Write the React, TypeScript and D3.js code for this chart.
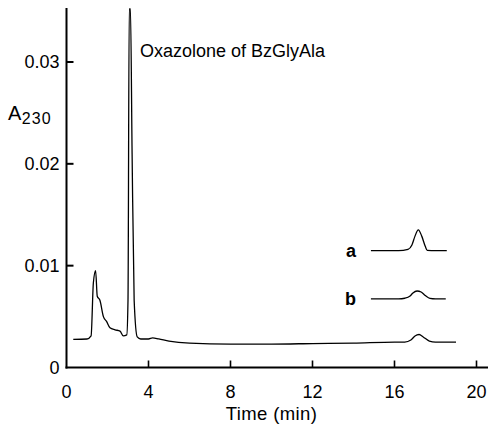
import React, { useMemo } from 'react';
import { scaleLinear, line, curveMonotoneX } from 'd3';

// main chromatogram (time in min, absorbance at 230 nm)
const mainTime = [0.33, 1.0, 1.2, 1.31, 1.42, 1.5, 1.63, 1.8, 1.96, 2.12, 2.37, 2.61, 2.77, 2.94, 3.0, 3.06, 3.12, 3.2, 3.3, 3.45, 3.62, 4.0, 4.2, 4.5, 5.0, 6.0, 8.0, 10.0, 12.0, 14.0, 16.0, 16.5, 16.8, 17.0, 17.2, 17.4, 17.7, 18.0, 19.0];
const mainValue = [0.00277, 0.0028, 0.0031, 0.0083, 0.0095, 0.007, 0.0066, 0.005, 0.0045, 0.0039, 0.0037, 0.00357, 0.0031, 0.0032, 0.0066, 0.0352, 0.0352, 0.021, 0.0066, 0.003, 0.0028, 0.0028, 0.0029, 0.0028, 0.0026, 0.0024, 0.0023, 0.0023, 0.00235, 0.0024, 0.0025, 0.0025, 0.0027, 0.0031, 0.00324, 0.003, 0.0026, 0.0025, 0.0025];

// inset traces a and b, drawn offset above the baseline
const traceATime = [14.85, 16.2, 16.66, 16.85, 17.0, 17.16, 17.33, 17.5, 17.6, 18.0, 18.55];
const traceAValue = [0.01147, 0.01147, 0.0116, 0.01203, 0.0129, 0.01351, 0.0129, 0.0119, 0.0115, 0.01147, 0.01147];
const traceBTime = [14.85, 16.2, 16.5, 16.76, 16.9, 17.1, 17.3, 17.5, 17.73, 18.0, 18.5];
const traceBValue = [0.00673, 0.00673, 0.0068, 0.00702, 0.00732, 0.00751, 0.00741, 0.00707, 0.00678, 0.00673, 0.00673];

const xTicks = [0, 4, 8, 12, 16, 20];
const yTicks = [0, 0.01, 0.02, 0.03];
const yTickLabels = ['0', '0.01', '0.02', '0.03'];

const W = 488;
const H = 432;
const FONT = '"Liberation Sans", Arial, Helvetica, sans-serif';

function zip(ts, vs) {
    return ts.map((t, i) => ({ t, v: vs[i] }));
}

export default function App() {
    const chart = useMemo(() => {
        const x = scaleLinear().domain([0, 20.6]).range([66.5, 488.8]);
        const y = scaleLinear().domain([0, 0.0353]).range([367.5, 8]);
        const path = line()
            .x((d) => x(d.t))
            .y((d) => y(d.v))
            .curve(curveMonotoneX);
        return {
            x,
            y,
            main: path(zip(mainTime, mainValue)),
            a: path(zip(traceATime, traceAValue)),
            b: path(zip(traceBTime, traceBValue)),
        };
    }, []);

    const { x, y } = chart;
    const x0 = x(0);
    const y0 = y(0);

    return (
        <svg
            width={W}
            height={H}
            style={{ position: 'fixed', left: 0, top: 0, background: '#fff' }}
            fontFamily={FONT}
        >
            <defs>
                <clipPath id="plot">
                    <rect x={x0} y={y(0.0353)} width={W - x0} height={y0 - y(0.0353)} />
                </clipPath>
            </defs>

            {/* axes */}
            <line x1={x0} x2={x0} y1={y(0.0353)} y2={y0 + 1} stroke="#000" strokeWidth={2} />
            <line x1={x0 - 1} x2={W} y1={y0} y2={y0} stroke="#000" strokeWidth={2} />

            {yTicks.map((v, i) => (
                <g key={`y-${v}`}>
                    {v > 0 ? (
                        <line x1={x0} x2={x0 + 7} y1={y(v)} y2={y(v)} stroke="#000" strokeWidth={2} />
                    ) : null}
                    <text
                        x={x0 - 7}
                        y={y(v)}
                        dy="0.36em"
                        textAnchor="end"
                        fontSize={18}
                    >
                        {yTickLabels[i]}
                    </text>
                </g>
            ))}

            {xTicks.map((t) => (
                <g key={`x-${t}`}>
                    {t > 0 ? (
                        <line x1={x(t)} x2={x(t)} y1={y0} y2={y0 - 7} stroke="#000" strokeWidth={1.6} />
                    ) : null}
                    <text x={x(t)} y={398} textAnchor="middle" fontSize={18}>
                        {t}
                    </text>
                </g>
            ))}

            <text x={x(10)} y={420} textAnchor="middle" fontSize={18.5} letterSpacing={0.4}>
                Time (min)
            </text>

            <text x={8} y={120} fontSize={20} letterSpacing={0.5}>
                A
                <tspan fontSize={16} dy={4} letterSpacing={1}>230</tspan>
            </text>

            <text x={140} y={57} fontSize={18}>
                Oxazolone of BzGlyAla
            </text>

            {/* traces */}
            <g clipPath="url(#plot)" fill="none" stroke="#000" strokeWidth={1.3} strokeLinejoin="round">
                <path d={chart.main} />
                <path d={chart.a} />
                <path d={chart.b} />
            </g>

            <text x={x(14.85) - 15} y={y(traceAValue[0])} dy="0.36em" textAnchor="end" fontSize={18} fontWeight="bold">
                a
            </text>
            <text x={x(14.85) - 15} y={y(traceBValue[0])} dy="0.36em" textAnchor="end" fontSize={18} fontWeight="bold">
                b
            </text>
        </svg>
    );
}
